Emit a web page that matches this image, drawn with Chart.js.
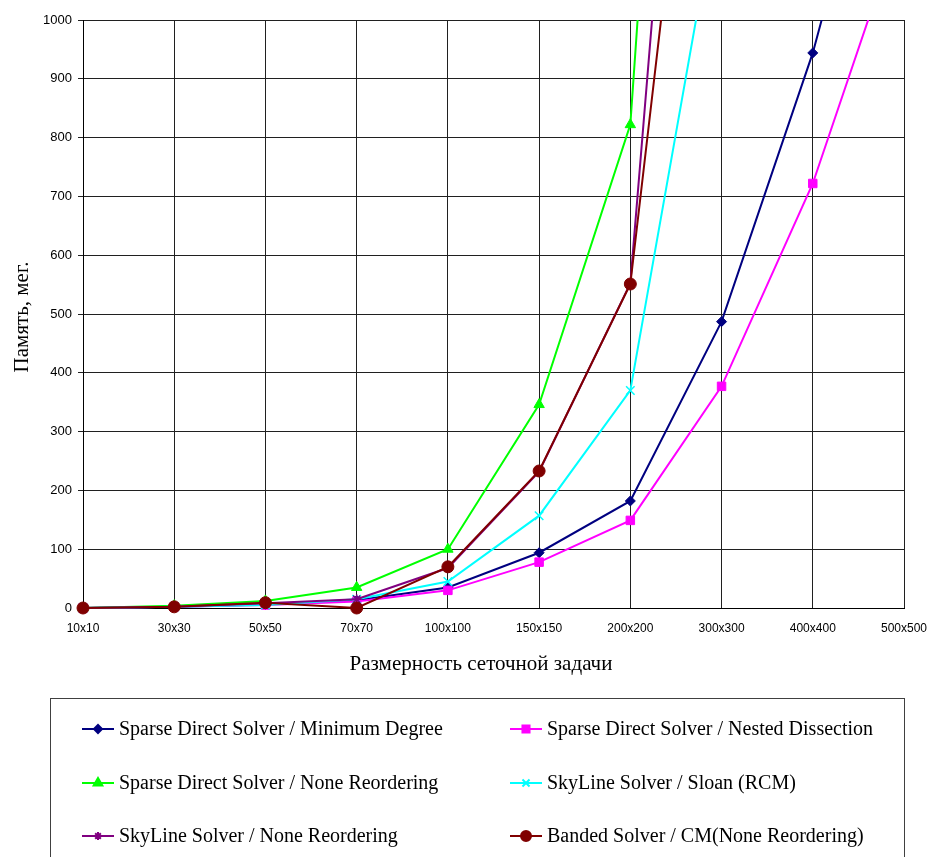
<!DOCTYPE html>
<html><head><meta charset="utf-8">
<script src="https://cdn.jsdelivr.net/npm/chart.js@4/dist/chart.umd.min.js"></script>
<style>html,body{margin:0;padding:0;background:#fff;}canvas{display:block;}</style>
</head><body>
<canvas id="c" width="930" height="857"></canvas>
<script>
// ---- data ----
const categories = ['10x10','30x30','50x50','70x70','100x100','150x150','200x200','300x300','400x400','500x500'];
const minimumDegree   = [0, 2, 6, 13, 35, 94, 182, 487, 944, 1520];
const nestedDissection = [0, 2, 5, 11, 30, 78, 149, 377, 722, 1180];
const sparseNone      = [0, 4, 12, 35, 100, 346, 822, 3060, null, null];
const skylineSloan    = [0, 2, 5, 15, 45, 157, 370, 1245, null, null];
const skylineNone     = [0, 2, 8, 15, 68, 232, 552, 2435, null, null];
const bandedCM        = [0, 2, 9, 0, 70, 233, 551, 1885, null, null];
const seriesNames = [
  'Sparse Direct Solver / Minimum Degree',
  'Sparse Direct Solver / Nested Dissection',
  'Sparse Direct Solver / None Reordering',
  'SkyLine Solver / Sloan (RCM)',
  'SkyLine Solver / None Reordering',
  'Banded Solver / CM(None Reordering)'
];
const yAxisTitle = 'Память, мег.';
const xAxisTitle = 'Размерность сеточной задачи';
const yMin = 0, yMax = 1000, yStep = 100;

// ---- styles ----
const seriesValues = [minimumDegree, nestedDissection, sparseNone, skylineSloan, skylineNone, bandedCM];
const colors = ['#000080', '#FF00FF', '#00FF00', '#00FFFF', '#800080', '#800000'];
const pStyles = ['rectRot', 'rect', 'triangle', 'crossRot', 'star', 'circle'];
const pRadius = [5, 6, 6, 6, 5, 6];

const datasets = seriesValues.map((vals, i) => ({
  label: seriesNames[i],
  data: vals,
  borderColor: colors[i],
  backgroundColor: colors[i],
  borderWidth: 2,
  pointStyle: pStyles[i],
  pointRadius: pRadius[i],
  pointBorderWidth: (pStyles[i] === 'crossRot' || pStyles[i] === 'star') ? 1.5 : 1,
  pointBackgroundColor: colors[i],
  pointBorderColor: colors[i],
  tension: 0,
  spanGaps: false,
  order: 6 - i,
  clip: {left: 10, top: 0, right: 10, bottom: 10}
}));

const serif = '"Liberation Serif", "Times New Roman", serif';
const sans = '"Liberation Sans", Arial, sans-serif';

const decorPlugin = {
  id: 'decor',
  afterDraw(chart) {
    const ctx = chart.ctx;
    ctx.save();
    // axis titles
    ctx.fillStyle = '#000';
    ctx.font = '21px ' + serif;
    ctx.textAlign = 'center';
    ctx.textBaseline = 'middle';
    ctx.fillText(xAxisTitle, 481, 664);
    ctx.save();
    ctx.translate(22, 317);
    ctx.rotate(-Math.PI / 2);
    ctx.fillText(yAxisTitle, 0, 0);
    ctx.restore();

    // legend box
    ctx.strokeStyle = '#404040';
    ctx.lineWidth = 1;
    ctx.strokeRect(50.5, 698.5, 854, 200);

    const colX = [82, 510];
    const rowY = [729, 783, 836];
    ctx.font = '20px ' + serif;
    ctx.textAlign = 'left';
    ctx.textBaseline = 'middle';
    seriesNames.forEach((name, i) => {
      const cx = colX[i % 2];
      const cy = rowY[Math.floor(i / 2)];
      ctx.strokeStyle = colors[i];
      ctx.lineWidth = 2;
      ctx.beginPath();
      ctx.moveTo(cx, cy);
      ctx.lineTo(cx + 32, cy);
      ctx.stroke();
      ctx.fillStyle = colors[i];
      Chart.helpers.drawPoint(ctx, {
        pointStyle: pStyles[i],
        radius: pRadius[i] - 1,
        rotation: 0,
        borderWidth: (pStyles[i] === 'crossRot' || pStyles[i] === 'star') ? 1.5 : 1
      }, cx + 16, cy);
      ctx.fillStyle = '#000';
      ctx.fillText(name, cx + 37, cy + 1);
    });
    ctx.restore();
  }
};

new Chart(document.getElementById('c'), {
  type: 'line',
  data: { labels: categories, datasets },
  options: {
    responsive: false,
    animation: false,
    devicePixelRatio: 1,
    layout: { padding: { left: 0, top: 20, right: 26, bottom: 159 } },
    plugins: { legend: { display: false }, tooltip: { enabled: false } },
    scales: {
      x: {
        type: 'category',
        offset: false,
        grid: { color: '#202020', lineWidth: 1, drawTicks: false, offset: false },
        border: { color: '#000', width: 1 },
        ticks: { color: '#000', font: { family: sans, size: 12 }, padding: 13, maxRotation: 0, autoSkip: false },
        afterFit(s) { s.height = 90; s.paddingLeft = 0; s.paddingRight = 0; }
      },
      y: {
        min: yMin, max: yMax,
        grid: { color: '#202020', lineWidth: 1, tickLength: 5 },
        border: { color: '#000', width: 1 },
        ticks: { stepSize: yStep, color: '#000', font: { family: sans, size: 13 }, padding: 6,
                 callback: (v) => String(v) },
        afterFit(s) { s.width = 83; }
      }
    }
  },
  plugins: [decorPlugin]
});
</script>
</body></html>
